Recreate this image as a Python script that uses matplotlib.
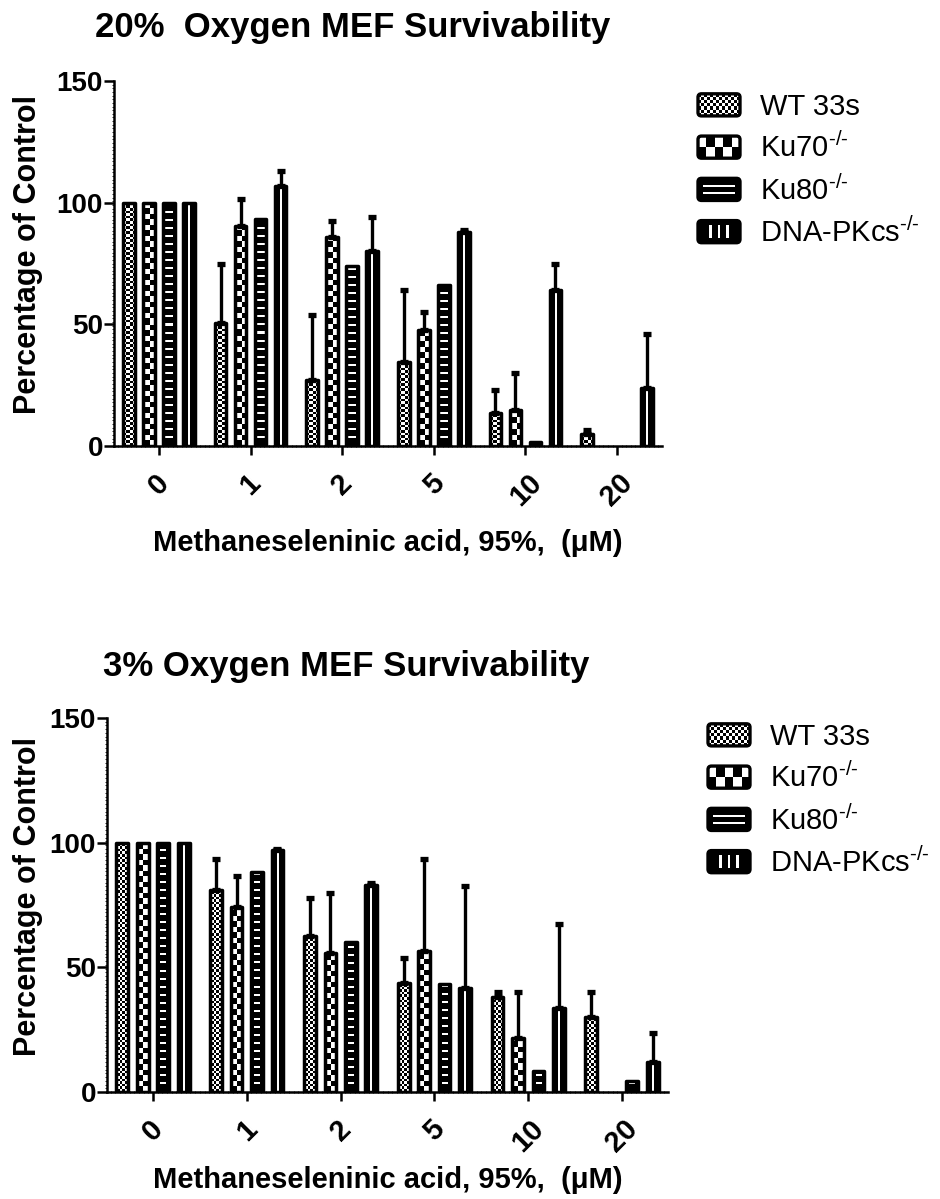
import numpy as np
import matplotlib
matplotlib.use("Agg")
import matplotlib.pyplot as plt
from matplotlib.patches import FancyBboxPatch, Rectangle
from matplotlib.legend_handler import HandlerBase
from matplotlib.ticker import MultipleLocator

plt.rcParams['font.family'] = ['Liberation Sans', 'DejaVu Sans']
plt.rcParams['mathtext.fontset'] = 'custom'
plt.rcParams['mathtext.rm'] = 'Liberation Sans'
plt.rcParams['mathtext.it'] = 'Liberation Sans:italic'
plt.rcParams['mathtext.bf'] = 'Liberation Sans:bold'

# ---------------- data ----------------
doses = ["0", "1", "2", "5", "10", "20"]
series_labels = ["WT 33s", r"Ku70$^{\text{-/-}}$", r"Ku80$^{\text{-/-}}$",
                 r"DNA-PKcs$^{\text{-/-}}$"]
series_kinds = ["wt", "ku70", "ku80", "dna"]

# 20% oxygen
o20_wt = [100, 50.4, 27.0, 34.4, 13.5, 5.0]
o20_wt_err = [0, 24.6, 27.0, 29.9, 9.5, 1.5]
o20_ku70 = [100, 90.6, 86.0, 47.5, 15.0, 0]
o20_ku70_err = [0, 11.0, 6.5, 7.5, 15.0, 0]
o20_ku80 = [100, 93.4, 73.8, 66.0, 1.6, 0]
o20_ku80_err = [0, 0, 0, 0, 0, 0]
o20_dna = [100, 107.0, 80.0, 88.0, 64.3, 23.8]
o20_dna_err = [0, 6.0, 14.0, 0.8, 10.7, 22.2]

# 3% oxygen
o3_wt = [100, 81.0, 62.5, 43.8, 38.2, 30.0]
o3_wt_err = [0, 12.6, 15.5, 10.0, 1.8, 10.0]
o3_ku70 = [100, 74.0, 55.7, 56.6, 21.7, 0]
o3_ku70_err = [0, 12.7, 24.3, 37.0, 18.3, 0]
o3_ku80 = [100, 88.4, 60.0, 43.4, 8.4, 4.4]
o3_ku80_err = [0, 0, 0, 0, 0, 0]
o3_dna = [100, 97.0, 83.0, 41.8, 33.7, 12.0]
o3_dna_err = [0, 0.6, 1.0, 40.9, 33.8, 11.7]

titles = ["20%  Oxygen MEF Survivability", "3% Oxygen MEF Survivability"]
xlabel = "Methaneseleninic acid, 95%,  (\u03bcM)"
ylabel = "Percentage of Control"
yticks = [0, 50, 100, 150]

# ---------------- layout ----------------
W, H = 940, 1199
DPI = 100
fig = plt.figure(figsize=(W / DPI, H / DPI), dpi=DPI)

XLIM = (-0.49, 5.49)
YLIM = (0, 150)
EDGE_LW = 2.5


def pattern(kind, nr, nc):
    ii, jj = np.mgrid[0:nr, 0:nc]
    if kind == "wt":
        c = 2.6
        arr = ((np.floor(ii / c) + np.floor((jj - nc / 2.0) / c)) % 2).astype(float)
    elif kind == "ku70":
        c = 5.5
        arr = ((np.floor(ii / c) + (jj >= nc / 2.0)) % 2).astype(float)
    elif kind == "ku80":
        arr = np.zeros((nr, nc))
        mask = ((ii % 8) < 2) & (np.abs(jj - (nc - 1) / 2.0) <= nc * 0.28)
        mask &= ii > 2
        arr[mask] = 1.0
    else:
        arr = np.zeros((nr, nc))
        arr[np.abs(jj - (nc - 1) / 2.0) < 0.8] = 1.0
    return arr


def draw_panel(rect, data, title, title_xy, ylab_xy, xlab_y):
    ax = fig.add_axes(rect)
    ax_w_px = rect[2] * W
    ax_h_px = rect[3] * H
    px_x = ax_w_px / (XLIM[1] - XLIM[0])
    px_y = ax_h_px / (YLIM[1] - YLIM[0])
    x = np.arange(len(doses))
    offsets = (np.arange(4) - 1.5) * 0.218
    bw = 0.125
    for k, (vals, errs) in enumerate(data):
        kind = series_kinds[k]
        xs = x + offsets[k]
        lws = [EDGE_LW if v > 0 else 0 for v in vals]
        bars = ax.bar(xs, vals, width=bw, facecolor='none', edgecolor='black',
                      linewidth=lws, zorder=3, joinstyle='round')
        for r in bars:
            h = r.get_height()
            if h <= 0:
                continue
            x0 = r.get_x()
            w = r.get_width()
            nc = max(1, int(round(w * px_x)))
            nr = max(1, int(round(h * px_y)))
            arr = pattern(kind, nr, nc)
            im = ax.imshow(arr, extent=(x0, x0 + w, 0, h), origin='lower', cmap='gray',
                           vmin=0, vmax=1, interpolation='nearest', aspect='auto', zorder=2)
            im.set_clip_path(r)
        ev = np.array(errs)
        sel = ev > 0
        if sel.any():
            ax.errorbar(np.asarray(xs)[sel], np.asarray(vals)[sel],
                        yerr=[np.zeros(sel.sum()), ev[sel]], fmt='none', ecolor='black',
                        elinewidth=2.4, capsize=3.2, capthick=3.8, zorder=4)
    ax.set_xlim(*XLIM)
    ax.set_ylim(*YLIM)
    for s in ('top', 'right'):
        ax.spines[s].set_visible(False)
    for s in ('left', 'bottom'):
        ax.spines[s].set_linewidth(1.8)
    ax.set_yticks(yticks)
    ax.set_yticklabels([str(t) for t in yticks], fontsize=20, fontweight='bold')
    ax.yaxis.set_minor_locator(MultipleLocator(1.5))
    ax.tick_params(axis='y', which='major', length=7, width=1.8, pad=1)
    ax.tick_params(axis='y', which='minor', length=1.8, width=0.6)
    ax.set_xticks(x)
    ax.set_xticklabels(doses, fontsize=21, fontweight='bold', rotation=45, ha='center')
    ax.xaxis.set_minor_locator(MultipleLocator(0.05))
    ax.tick_params(axis='x', which='major', length=6.5, width=1.8, pad=10)
    ax.tick_params(axis='x', which='minor', length=1.8, width=0.6, direction='inout')
    fig.text(title_xy[0], title_xy[1], title, fontsize=25, fontweight='bold',
             ha='left', va='baseline')
    fig.text(ylab_xy[0], ylab_xy[1], ylabel, fontsize=22, fontweight='bold',
             rotation=90, ha='center', va='center')
    fig.text(rect[0] + rect[2] / 2, xlab_y, xlabel, fontsize=21, fontweight='bold',
             ha='center', va='center')
    return ax


class PatternHandler(HandlerBase):
    def __init__(self, kind):
        super().__init__()
        self.kind = kind

    def create_artists(self, legend, orig_handle, xdescent, ydescent, width, height,
                       fontsize, trans):
        x0, y0 = -xdescent, -ydescent
        kind = self.kind
        bg = 'white' if kind in ('wt', 'ku70') else 'black'
        arts = [FancyBboxPatch((x0, y0), width, height,
                               boxstyle='round,pad=0,rounding_size=2.5',
                               fc=bg, ec='none', transform=trans)]
        if kind == 'wt':
            nx, ny = 14, 7
            for i in range(ny):
                for j in range(nx):
                    if (i + j) % 2 == 0:
                        arts.append(Rectangle((x0 + j * width / nx, y0 + i * height / ny),
                                              width / nx, height / ny, fc='black', ec='none',
                                              transform=trans))
        elif kind == 'ku70':
            nx, ny = 5, 2
            for i in range(ny):
                for j in range(nx):
                    if (i + j) % 2 == 0:
                        arts.append(Rectangle((x0 + j * width / nx, y0 + i * height / ny),
                                              width / nx, height / ny, fc='black', ec='none',
                                              transform=trans))
        elif kind == 'ku80':
            for f in (1 / 3.0, 2 / 3.0):
                arts.append(Rectangle((x0 + width * 0.12, y0 + height * f - 0.8),
                                      width * 0.76, 1.6, fc='white', ec='none',
                                      transform=trans))
        else:
            for f in (0.3, 0.5, 0.7):
                arts.append(Rectangle((x0 + width * f - 0.9, y0 + height * 0.2),
                                      1.8, height * 0.6, fc='white', ec='none',
                                      transform=trans))
        arts.append(FancyBboxPatch((x0, y0), width, height,
                                   boxstyle='round,pad=0,rounding_size=2.5',
                                   fc='none', ec='black', lw=2.4, transform=trans))
        return arts


def add_legend(anchor):
    proxies = [Rectangle((0, 0), 1, 1) for _ in series_kinds]
    hmap = {p: PatternHandler(k) for p, k in zip(proxies, series_kinds)}
    fig.legend(proxies, series_labels, handler_map=hmap, loc='upper left',
               bbox_to_anchor=anchor, bbox_transform=fig.transFigure,
               frameon=False, fontsize=21, handlelength=1.44, handleheight=0.79,
               handletextpad=0.7, labelspacing=0.4, borderpad=0, borderaxespad=0)


top_rect = [114 / W, 1 - 446 / H, (662 - 114) / W, (446 - 81) / H]
bot_rect = [107 / W, 1 - 1092 / H, (668 - 107) / W, (1092 - 718) / H]

draw_panel(top_rect,
           [(o20_wt, o20_wt_err), (o20_ku70, o20_ku70_err),
            (o20_ku80, o20_ku80_err), (o20_dna, o20_dna_err)],
           titles[0], (95 / W, 1 - 37 / H), (28 / W, 1 - 255 / H), 1 - 543 / H)
draw_panel(bot_rect,
           [(o3_wt, o3_wt_err), (o3_ku70, o3_ku70_err),
            (o3_ku80, o3_ku80_err), (o3_dna, o3_dna_err)],
           titles[1], (103 / W, 1 - 676 / H), (28 / W, 1 - 897 / H), 1 - 1180 / H)

add_legend((698 / W, 1 - 93 / H))
add_legend((708 / W, 1 - 723 / H))

fig.savefig("out.png", dpi=DPI)
